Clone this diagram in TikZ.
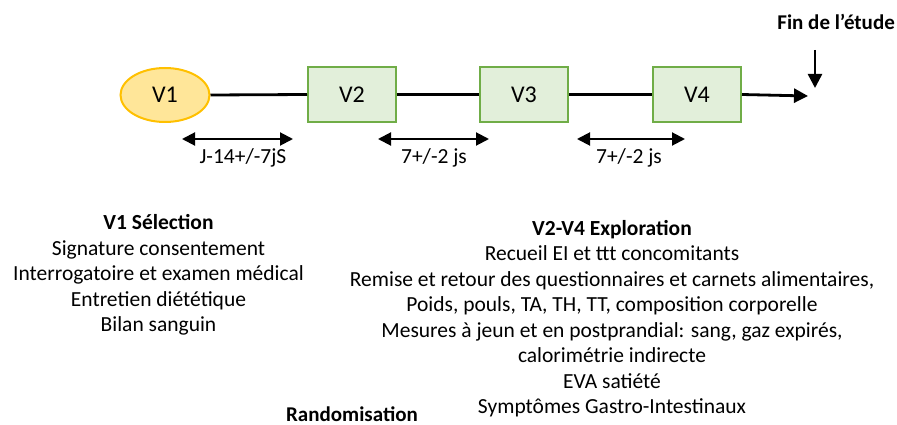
\documentclass[tikz,border=0pt]{standalone}
\usepackage{fontspec}
\setmainfont{Carlito}
\usetikzlibrary{arrows.meta,shapes.geometric}
\definecolor{ellfill}{HTML}{FFE699}
\definecolor{elldraw}{HTML}{FFC000}
\definecolor{boxfill}{HTML}{E2EFDA}
\definecolor{boxdraw}{HTML}{70AD47}
\begin{document}
\begin{tikzpicture}[x=1pt,y=-1pt,
  txt/.style={font=\fontsize{21.5}{25.5}\selectfont, inner sep=0pt},
  visitbox/.style={draw=boxdraw, fill=boxfill, line width=2pt, minimum width=88pt, minimum height=55pt, inner sep=0pt, font=\fontsize{24}{28}\selectfont},
  visitell/.style={ellipse, draw=elldraw, fill=ellfill, line width=2pt, minimum width=89pt, minimum height=54pt, inner sep=0pt, font=\fontsize{24}{28}\selectfont},
  mainline/.style={line width=2.8pt},
  dbl/.style={line width=2pt, {Triangle[length=13pt,width=13pt]}-{Triangle[length=13pt,width=13pt]}},
  block/.style={txt, align=center},
  bold/.style={inner sep=0pt, font=\bfseries\fontsize{21}{25}\selectfont}
]
\useasboundingbox (0,0) rectangle (897,425);
\node[visitell] (v1) at (165,95) {V1};
\node[visitbox] (v2) at (352,94.5) {V2};
\node[visitbox] (v3) at (524,94.5) {V3};
\node[visitbox] (v4) at (697,94.5) {V4};
\coordinate (end) at (808,96);
\draw[mainline] (v1.east) -- (v2.west);
\draw[mainline] (v2.east) -- (v3.west);
\draw[mainline] (v3.east) -- (v4.west);
\draw[mainline, -{Triangle[length=14pt,width=14pt]}] (v4.east) -- (end);

\node[bold, anchor=east] (fin) at (895,22) {Fin de l’étude};
\coordinate (fintop) at (815,50);
\coordinate (finbot) at (815,88);
\draw[line width=2.5pt, -{Triangle[length=14pt,width=14pt]}] (fintop) -- (finbot);

\coordinate (a1l) at (182,139);
\coordinate (a1r) at (293,139);
\draw[dbl] (a1l) -- (a1r);
\node[txt] (l1) at (243,158) {J-14+/-7jS};
\coordinate (a2l) at (378,139);
\coordinate (a2r) at (489,139);
\draw[dbl] (a2l) -- (a2r);
\node[txt] (l2) at (434,158) {7+/-2 js};
\coordinate (a3l) at (577,139);
\coordinate (a3r) at (685,139);
\draw[dbl] (a3l) -- (a3r);
\node[txt] (l3) at (629,158) {7+/-2 js};

\node[block, anchor=center] (left) at (158.5,275) {\textbf{V1 Sélection}\\Signature consentement\\Interrogatoire et examen médical\\Entretien diététique\\Bilan sanguin};
\node[block, anchor=center] (right) at (612,318.5) {\textbf{V2-V4 Exploration}\\Recueil EI et ttt concomitants\\Remise et retour des questionnaires et carnets alimentaires,\\Poids, pouls, TA, TH, TT, composition corporelle\\Mesures à jeun et en postprandial: sang, gaz expirés,\\calorimétrie indirecte\\EVA satiété\\Symptômes Gastro-Intestinaux};
\node[bold] (rando) at (352,414) {Randomisation};
\end{tikzpicture}
\end{document}
